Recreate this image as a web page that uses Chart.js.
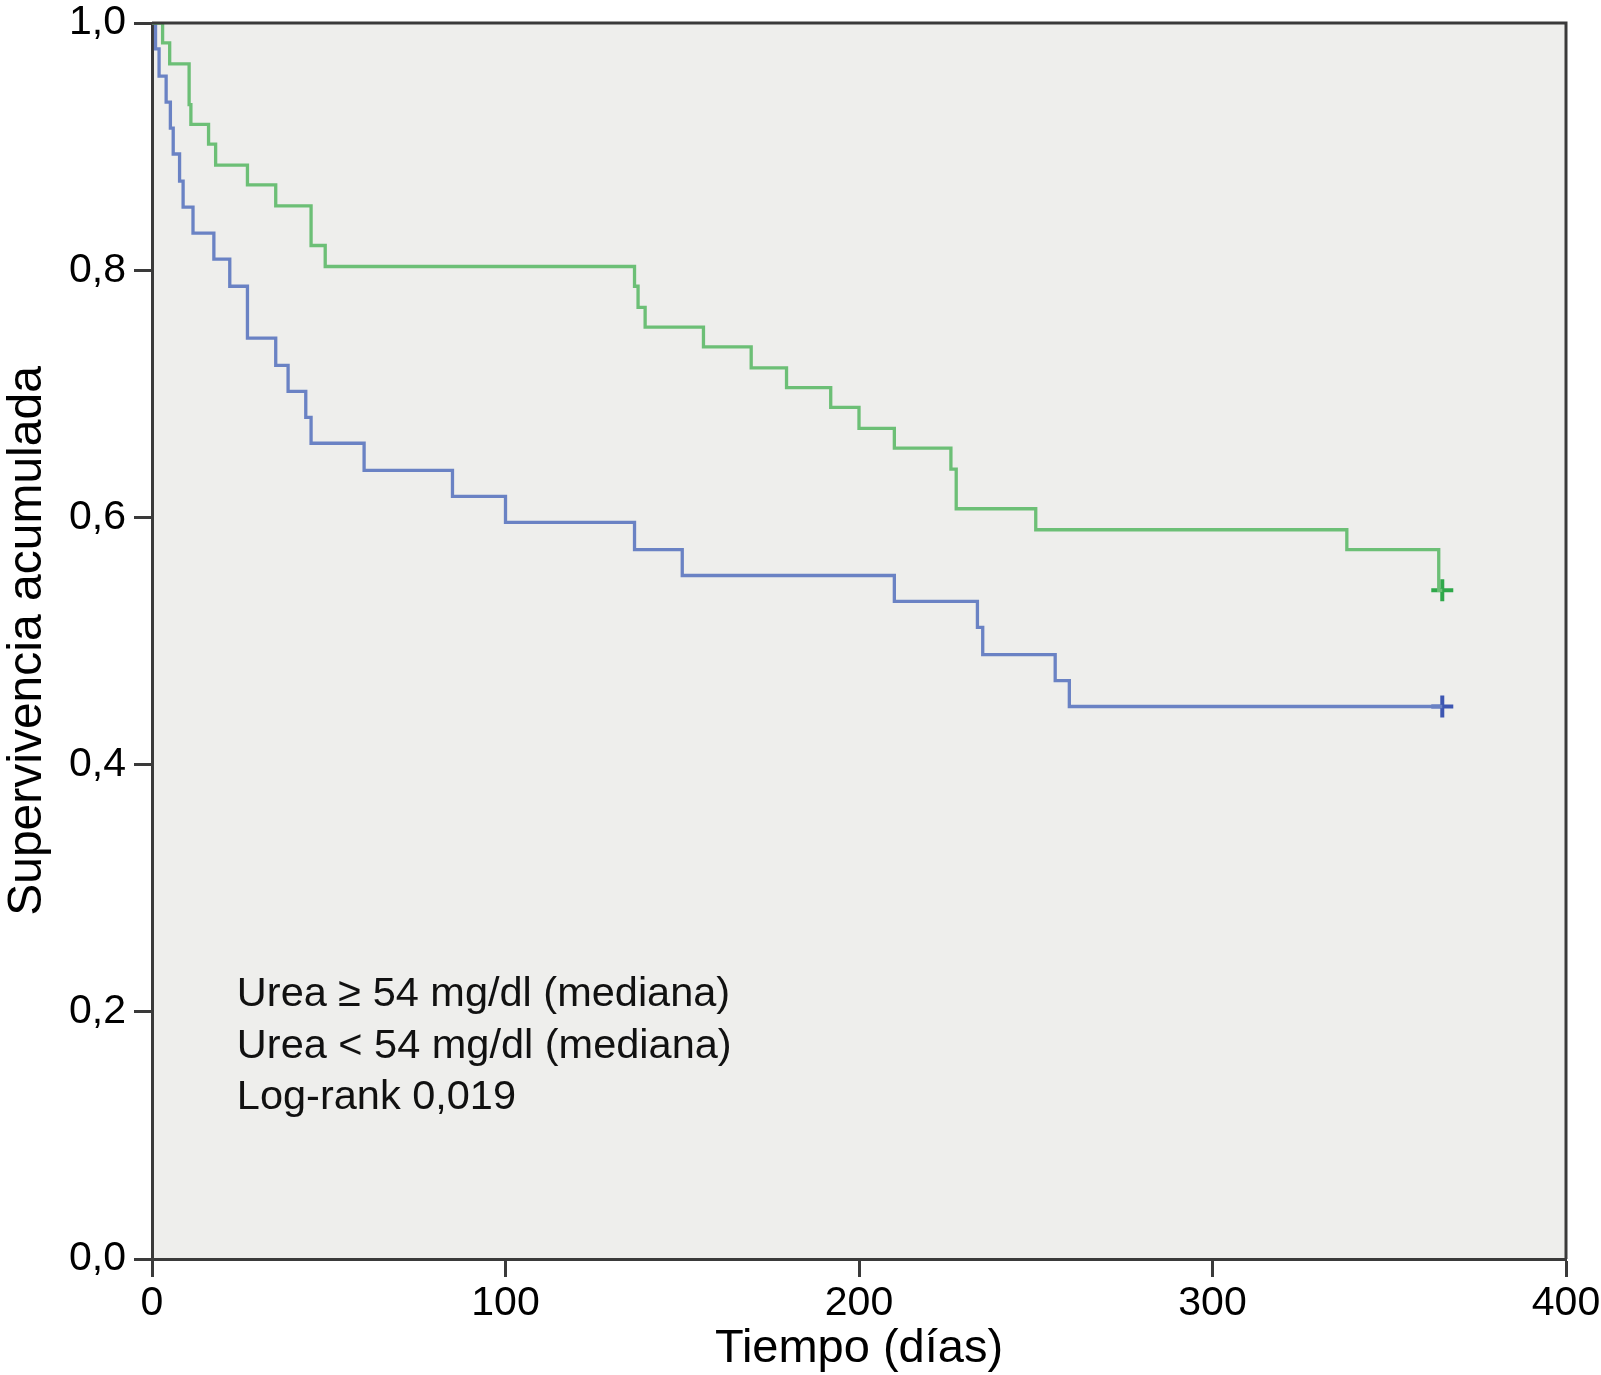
<!DOCTYPE html>
<html>
<head>
<meta charset="utf-8">
<title>Supervivencia acumulada</title>
<script src="https://cdn.jsdelivr.net/npm/chart.js@4.4.0/dist/chart.umd.min.js"></script>
<style>
  html, body { margin: 0; padding: 0; background: #fff; }
  #wrap { width: 1601px; height: 1375px; position: relative; }
</style>
</head>
<body>
<div id="wrap"><canvas id="km-chart"></canvas></div>
<script>
'use strict';

// *********** DATA ***************************************

// Urea >= 54 mg/dl (green curve): event times (days) and cumulative survival
let greenTimes = [0, 3, 5, 10.5, 11, 16, 18, 27, 35, 45, 49, 136.5, 137.5, 139.5, 156, 169.5, 179.5, 192, 200, 210, 226, 227.5, 250, 338, 364, 365];
let greenSurv  = [1, 0.984, 0.967, 0.934, 0.918, 0.902, 0.885, 0.869, 0.852, 0.820, 0.803, 0.787, 0.770, 0.754, 0.738, 0.721, 0.705, 0.689, 0.672, 0.656, 0.639, 0.607, 0.590, 0.574, 0.541, 0.541];

// Urea < 54 mg/dl (blue curve)
let blueTimes = [0, 1, 2, 4, 5.2, 6, 7.8, 8.8, 11.6, 17.5, 22, 27, 35, 38.5, 43.5, 45, 60, 85, 100, 136.5, 150, 210, 233.5, 235, 255.5, 259.5, 365];
let blueSurv  = [1, 0.979, 0.957, 0.936, 0.915, 0.894, 0.872, 0.851, 0.830, 0.809, 0.787, 0.745, 0.723, 0.702, 0.681, 0.660, 0.638, 0.617, 0.596, 0.574, 0.553, 0.532, 0.511, 0.489, 0.468, 0.447, 0.447];

// censored observations (plus marks)
let greenCensorTimes = [365];
let greenCensorSurv = [0.541];
let blueCensorTimes = [365];
let blueCensorSurv = [0.447];

// tick labels
let xTickLabels = ['0', '100', '200', '300', '400'];
let yTickLabels = ['0,0', '0,2', '0,4', '0,6', '0,8', '1,0'];

// annotation text
let noteLines = ['Urea \u2265 54 mg/dl (mediana)', 'Urea < 54 mg/dl (mediana)', 'Log-rank 0,019'];
let noteX = 24;
let noteY = [0.214, 0.172, 0.131];

// ********** HELPERS ********************

const FONT = "'Liberation Sans', Arial, Helvetica, sans-serif";

function toPoints(xs, ys){
  let pts = [];
  for(let i=0;i<xs.length;i++){
    pts.push({x: xs[i], y: ys[i]});
  }
  return pts;
}

// plot background and the top/right frame
const plotFrame = {
  id: 'plotFrame',
  beforeDraw(chart){
    const a = chart.chartArea;
    const c = chart.ctx;
    c.save();
    c.fillStyle = '#eeeeec';
    c.fillRect(a.left, a.top, a.right - a.left, a.bottom - a.top);
    c.restore();
  },
  afterDraw(chart){
    const a = chart.chartArea;
    const c = chart.ctx;
    c.save();
    c.strokeStyle = '#3a3a3a';
    c.lineWidth = 3;
    c.beginPath();
    c.moveTo(a.left, a.top);
    c.lineTo(a.right, a.top);
    c.lineTo(a.right, a.bottom);
    c.stroke();
    c.restore();
  }
};

// text block in the lower left of the plot
const notes = {
  id: 'notes',
  afterDraw(chart){
    const c = chart.ctx;
    const xs = chart.scales.x;
    const ys = chart.scales.y;
    c.save();
    c.fillStyle = '#111';
    c.font = '41.5px ' + FONT;
    c.textBaseline = 'middle';
    c.textAlign = 'left';
    for(let i=0;i<noteLines.length;i++){
      c.fillText(noteLines[i], xs.getPixelForValue(noteX), ys.getPixelForValue(noteY[i]));
    }
    c.restore();
  }
};

// *********** RENDER CHART ****************

let ctx = document.getElementById('km-chart').getContext('2d');

let myChartObj = {
  type: 'line',
  data: {
    datasets: [{
      label: 'Urea \u2265 54 mg/dl',
      data: toPoints(greenTimes, greenSurv),
      borderColor: '#6cbf76',
      borderWidth: 3.3,
      stepped: 'before',
      pointRadius: 0,
      fill: false
    },
    {
      label: 'Urea < 54 mg/dl',
      data: toPoints(blueTimes, blueSurv),
      borderColor: '#6a82c4',
      borderWidth: 3.3,
      stepped: 'before',
      pointRadius: 0,
      fill: false
    },
    {
      type: 'scatter',
      label: 'censurado 1',
      data: toPoints(greenCensorTimes, greenCensorSurv),
      pointStyle: 'cross',
      pointRadius: 11,
      borderColor: '#2fa84a',
      borderWidth: 4,
      showLine: false
    },
    {
      type: 'scatter',
      label: 'censurado 2',
      data: toPoints(blueCensorTimes, blueCensorSurv),
      pointStyle: 'cross',
      pointRadius: 11,
      borderColor: '#3d56b2',
      borderWidth: 4,
      showLine: false
    }]
  },
  options: {
    responsive: true,
    maintainAspectRatio: false,
    animation: false,
    devicePixelRatio: 1,
    layout: {
      padding: {left: 0, right: 35, top: 23, bottom: 0}
    },
    plugins: {
      legend: {display: false},
      tooltip: {enabled: false}
    },
    scales: {
      x: {
        type: 'linear',
        min: 0,
        max: 400,
        afterFit(scale){
          scale.height = 116;
          scale.paddingLeft = 0;
          scale.paddingRight = 0;
        },
        afterBuildTicks(scale){
          scale.ticks = xTickLabels.map(function(t){ return {value: Number(t)}; });
        },
        ticks: {
          callback: function(v, i){ return xTickLabels[i]; },
          color: '#000',
          font: {family: FONT, size: 41, lineHeight: 1},
          padding: 6,
          maxRotation: 0
        },
        grid: {
          drawOnChartArea: false,
          drawTicks: true,
          tickLength: 18,
          tickWidth: 3,
          tickColor: '#3a3a3a'
        },
        border: {display: true, color: '#3a3a3a', width: 3},
        title: {
          display: true,
          text: 'Tiempo (d\u00edas)',
          color: '#000',
          font: {family: FONT, size: 47, lineHeight: 1.1},
          padding: {top: 0, bottom: 0}
        }
      },
      y: {
        type: 'linear',
        min: 0,
        max: 1,
        afterFit(scale){
          scale.width = 152;
          scale.paddingTop = 0;
          scale.paddingBottom = 0;
        },
        afterBuildTicks(scale){
          scale.ticks = yTickLabels.map(function(t){ return {value: Number(t.replace(',', '.'))}; });
        },
        ticks: {
          callback: function(v, i){ return yTickLabels[i]; },
          color: '#000',
          font: {family: FONT, size: 41, lineHeight: 1},
          padding: 8
        },
        grid: {
          drawOnChartArea: false,
          drawTicks: true,
          tickLength: 18,
          tickWidth: 3,
          tickColor: '#3a3a3a'
        },
        border: {display: true, color: '#3a3a3a', width: 3},
        title: {
          display: true,
          text: 'Supervivencia acumulada',
          color: '#000',
          font: {family: FONT, size: 48, lineHeight: 1},
          padding: {top: 4, bottom: 0}
        }
      }
    }
  },
  plugins: [plotFrame, notes]
};

new Chart(ctx, myChartObj);
</script>
</body>
</html>
